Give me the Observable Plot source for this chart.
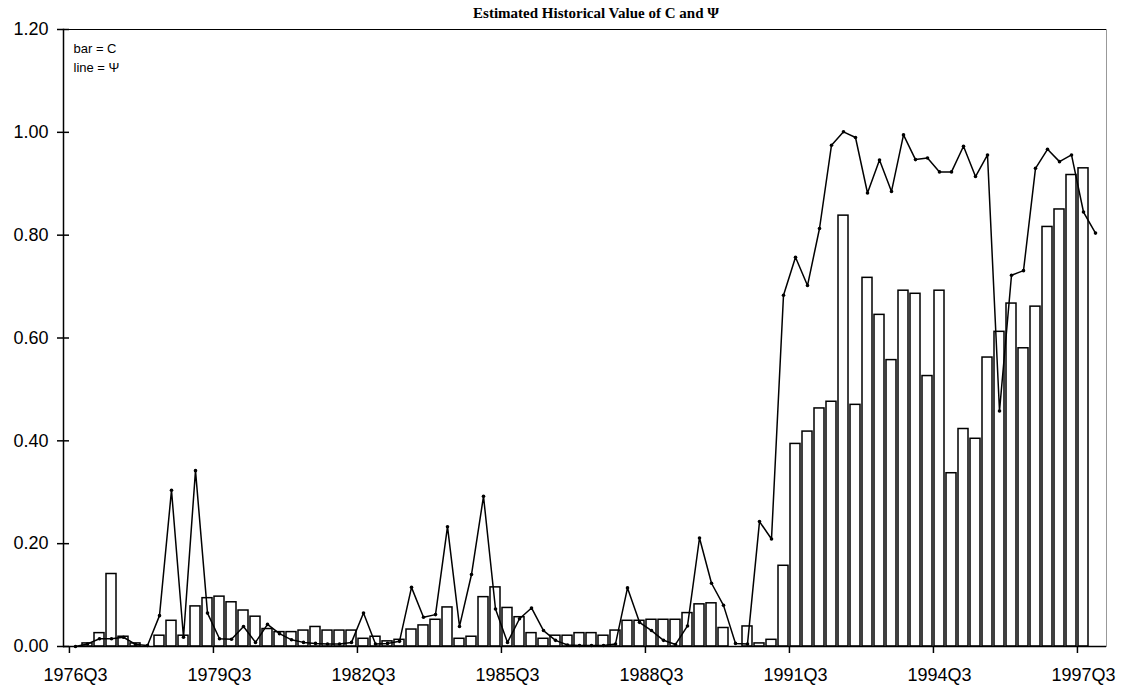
<!DOCTYPE html>
<html>
<head>
<meta charset="utf-8">
<script src="https://cdn.jsdelivr.net/npm/d3@7"></script>
<script src="https://cdn.jsdelivr.net/npm/@observablehq/plot@0.6"></script>
<style>
  html, body { margin: 0; padding: 0; background: white; }
</style>
</head>
<body>
<div id="chart"></div>
<script>
// ---- Data ----
const titleText = "Estimated Historical Value of C and Ψ";
const legendLabels = ["bar = C", "line = Ψ"];

// 86 quarters, 1976Q3 ... 1997Q4
const startYear = 1976, startQuarter = 3, nQuarters = 86;
const quarters = [];
for (let i = 0; i < nQuarters; i++) {
  const k = (startQuarter - 1) + i;
  quarters.push(`${startYear + Math.floor(k / 4)}Q${(k % 4) + 1}`);
}

// Bars: C
const barC = [
  0, 0.006, 0.026, 0.141, 0.019, 0.006, 0, 0.021, 0.050, 0.021,
  0.078, 0.094, 0.097, 0.086, 0.070, 0.058, 0.034, 0.028, 0.028, 0.031,
  0.038, 0.031, 0.031, 0.031, 0.015, 0.019, 0.010, 0.013, 0.033, 0.041,
  0.052, 0.076, 0.015, 0.019, 0.096, 0.115, 0.075, 0.057, 0.026, 0.015,
  0.021, 0.021, 0.026, 0.026, 0.021, 0.031, 0.050, 0.050, 0.052, 0.052,
  0.052, 0.065, 0.082, 0.084, 0.036, 0, 0.039, 0.006, 0.013, 0.157,
  0.394, 0.418, 0.463, 0.476, 0.838, 0.470, 0.717, 0.645, 0.557, 0.692,
  0.686, 0.526, 0.692, 0.337, 0.423, 0.404, 0.562, 0.612, 0.667, 0.580,
  0.661, 0.816, 0.850, 0.917, 0.930, null
];

// Line: Psi
const psiLine = [
  0.000, 0.005, 0.015, 0.015, 0.018, 0.004, 0.002, 0.060, 0.304, 0.018,
  0.342, 0.065, 0.015, 0.014, 0.039, 0.008, 0.043, 0.025, 0.013, 0.008,
  0.006, 0.005, 0.005, 0.008, 0.065, 0.005, 0.006, 0.010, 0.115, 0.057,
  0.062, 0.233, 0.039, 0.140, 0.292, 0.073, 0.008, 0.054, 0.075, 0.031,
  0.012, 0.003, 0.002, 0.002, 0.002, 0.005, 0.114, 0.047, 0.031, 0.012,
  0.004, 0.040, 0.211, 0.123, 0.080, 0.006, 0.005, 0.243, 0.209, 0.683,
  0.757, 0.702, 0.813, 0.975, 1.001, 0.990, 0.882, 0.946, 0.885, 0.995,
  0.947, 0.950, 0.923, 0.923, 0.973, 0.914, 0.956, 0.458, 0.722, 0.731,
  0.930, 0.967, 0.943, 0.956, 0.845, 0.804
];

const xTickLabels = ["1976Q3", "1979Q3", "1982Q3", "1985Q3", "1988Q3", "1991Q3", "1994Q3", "1997Q3"];
const yTicks = [0, 0.2, 0.4, 0.6, 0.8, 1.0, 1.2];

// ---- Table for Plot ----
const rows = quarters.map((q, i) => ({ q, c: barC[i], psi: psiLine[i] }));

const W = 1129, H = 690;
const mL = 63, mR = 23, mT = 29, mB = 44;
const halfStep = (W - mL - mR) / nQuarters / 2;

const chart = Plot.plot({
  width: W,
  height: H,
  marginLeft: mL,
  marginRight: mR,
  marginTop: mT,
  marginBottom: mB,
  style: { fontFamily: "'Liberation Sans', Arial, sans-serif", background: "white", color: "black", overflow: "visible" },
  x: { type: "band", domain: quarters, paddingInner: 0.17, paddingOuter: 0.085, label: null },
  y: { domain: [0, 1.2], label: null },
  marks: [
    Plot.frame({ stroke: "#999", strokeWidth: 1 }),
    Plot.frame({ anchor: "left", stroke: "black", strokeWidth: 1.5 }),
    Plot.barY(rows.filter(d => d.c != null && d.c > 0), {
      x: "q", y: "c", fill: "white", stroke: "black", strokeWidth: 1.5
    }),
    Plot.line(rows, { x: "q", y: "psi", stroke: "black", strokeWidth: 1.5 }),
    Plot.dot(rows, { x: "q", y: "psi", r: 1.8, fill: "black", stroke: "none" }),
    Plot.ruleY([0], { stroke: "black", strokeWidth: 1.5 }),
    Plot.ruleY([1.2], { stroke: "black", strokeWidth: 1 }),
    Plot.axisY(yTicks, {
      tickSize: 6, tickPadding: 9, tickFormat: d3.format(".2f"),
      fontSize: 18, strokeWidth: 1.5, label: null
    }),
    Plot.axisY(yTicks, { tickSize: -6, tickFormat: () => "", strokeWidth: 1.5, label: null }),
    Plot.axisX(xTickLabels, { tickSize: 7, dx: -halfStep, tickFormat: () => "", strokeWidth: 1.5, label: null }),
    Plot.axisX(xTickLabels, { tickSize: 0, tickPadding: 22, fontSize: 18, label: null }),
    Plot.text([titleText], {
      frameAnchor: "top", dx: 11, dy: -12, lineAnchor: "bottom",
      fontFamily: "'Liberation Serif', 'Times New Roman', serif", fontWeight: "bold", fontSize: 15
    }),
    Plot.text([legendLabels.join("\n")], {
      frameAnchor: "top-left", dx: 10, dy: 10, lineAnchor: "top", textAnchor: "start",
      lineHeight: 1.45, fontSize: 13
    })
  ]
});

document.getElementById("chart").appendChild(chart);
</script>
</body>
</html>
